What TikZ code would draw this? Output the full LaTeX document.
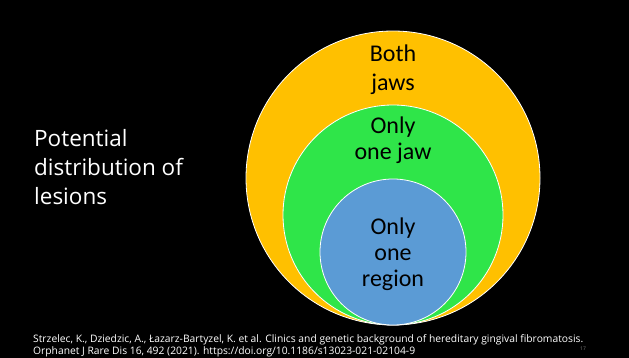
\documentclass[tikz,border=0pt]{standalone}
\usepackage{fontspec}
\setmainfont{Carlito}[Ligatures=CommonOff]
\newfontfamily\slidesans{Open Sans}
\usetikzlibrary{positioning}

\definecolor{jawsorange}{RGB}{255,192,0}
\definecolor{jawgreen}{RGB}{47,229,73}
\definecolor{regionblue}{RGB}{91,155,213}

\begin{document}
\begin{tikzpicture}[x=1pt, y=-1pt,
    zone/.style={circle, draw=white, line width=0.8pt, inner sep=0pt},
    zone label/.style={align=center, inner sep=0pt, text=black, font=\fontsize{24}{26}\selectfont}]

    \fill [black] (0,0) rectangle (629,358);
    \useasboundingbox (0,0) rectangle (629,358);

    % nested circles
    \node [zone, fill=jawsorange, minimum size=294pt] (both) at (393,178) {};
    \node [zone, fill=jawgreen, minimum size=220pt] (one-jaw) at (393,215) {};
    \node [zone, fill=regionblue, minimum size=146pt] (one-region) at (393,252) {};

    \node [zone label, font=\fontsize{24}{29}\selectfont] (both-text) at (393,70) {Both\\jaws};
    \node [zone label] (one-jaw-text) at (393,140) {Only\\one jaw};
    \node [zone label] (one-region-text) at (393,254) {Only\\one\\region};

    % side title
    \node [anchor=north west, align=left, inner sep=0pt, text=white,
           font=\slidesans\fontsize{22.5}{29}\selectfont] (title) at (34,129)
        {Potential\\distribution of\\lesions};

    % reference
    \node [anchor=north west, align=left, inner sep=0pt, text=white,
           font=\slidesans\fontsize{10.3}{12}\selectfont] (source) at (33,334)
        {Strzelec, K., Dziedzic, A., Łazarz-Bartyzel, K. et al. Clinics and genetic background of hereditary gingival fibromatosis.\\
         Orphanet J Rare Dis 16, 492 (2021). https://doi.org/10.1186/s13023-021-02104-9};
    \node [text=gray, inner sep=0pt, font=\slidesans\fontsize{5}{6}\selectfont] (page-no) at (583,349) {17};

\end{tikzpicture}
\end{document}
